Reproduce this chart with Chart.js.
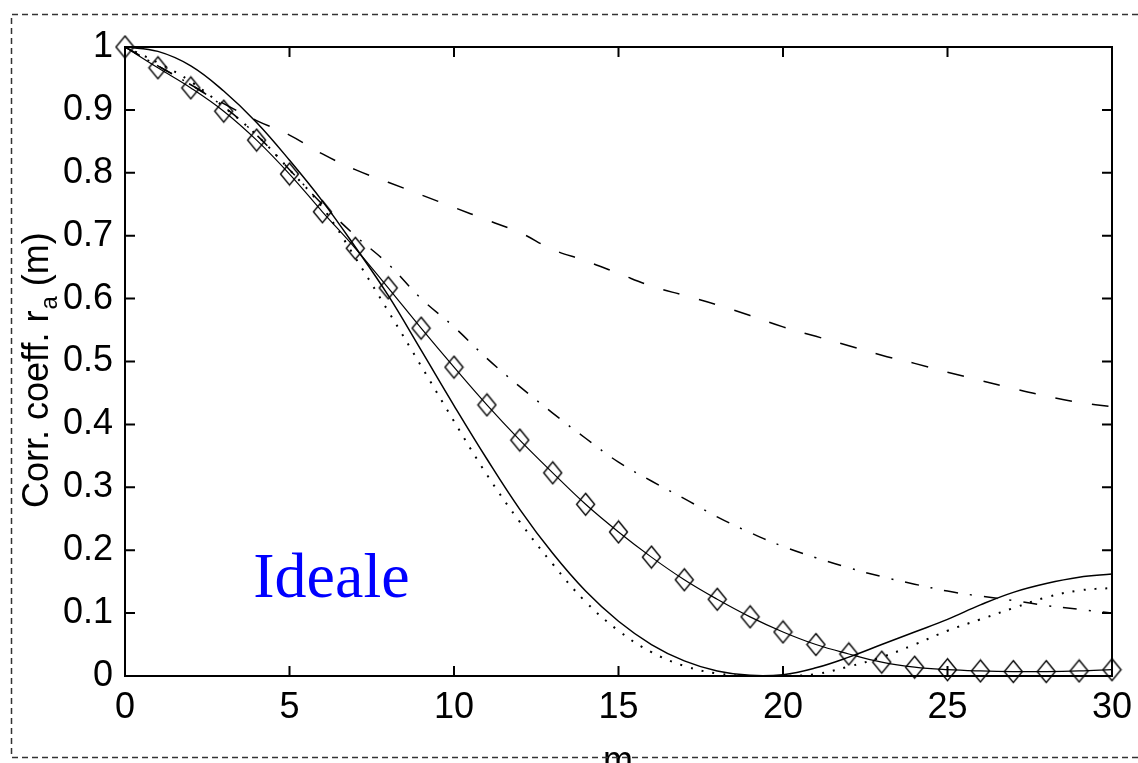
<!DOCTYPE html>
<html>
<head>
<meta charset="utf-8">
<script src="https://cdn.jsdelivr.net/npm/chart.js@4.4.1/dist/chart.umd.min.js"></script>
<style>
  html, body { margin: 0; padding: 0; background: #fff; }
  #wrap { position: relative; width: 1138px; height: 763px; }
</style>
</head>
<body>
<div id="wrap"><canvas id="corr" width="1138" height="763"></canvas></div>
<script>
// lag m
const lags = [0, 1, 2, 3, 4, 5, 6, 7, 8, 9, 10, 11, 12, 13, 14, 15, 16, 17, 18, 19, 20, 21, 22, 23, 24, 25, 26, 27, 28, 29, 30];

// correlation coefficient curves
const solidVals = [1.0, 0.993, 0.97, 0.93, 0.88, 0.82, 0.755, 0.682, 0.605, 0.518, 0.43, 0.345, 0.265, 0.195, 0.135, 0.087, 0.05, 0.024, 0.008, 0.001, 0.002, 0.013, 0.03, 0.05, 0.07, 0.09, 0.113, 0.133, 0.147, 0.157, 0.162];
const dottedVals = [1.0, 0.975, 0.945, 0.905, 0.86, 0.805, 0.745, 0.665, 0.58, 0.493, 0.405, 0.32, 0.245, 0.178, 0.118, 0.072, 0.038, 0.016, 0.004, 0.0, 0.0, 0.003, 0.015, 0.03, 0.05, 0.072, 0.09, 0.108, 0.125, 0.136, 0.14];
const dashDotVals = [1.0, 0.97, 0.94, 0.905, 0.86, 0.805, 0.75, 0.7, 0.655, 0.6, 0.555, 0.505, 0.46, 0.418, 0.378, 0.34, 0.31, 0.282, 0.253, 0.228, 0.206, 0.188, 0.172, 0.158, 0.146, 0.135, 0.127, 0.12, 0.112, 0.106, 0.1];
const dashedVals = [1.0, 0.97, 0.94, 0.91, 0.883, 0.86, 0.83, 0.805, 0.785, 0.765, 0.745, 0.725, 0.705, 0.678, 0.66, 0.64, 0.62, 0.605, 0.59, 0.573, 0.555, 0.54, 0.525, 0.51, 0.497, 0.483, 0.47, 0.457, 0.445, 0.435, 0.428];
const diamondVals = [1.0, 0.967, 0.935, 0.898, 0.852, 0.798, 0.738, 0.68, 0.617, 0.553, 0.491, 0.431, 0.375, 0.323, 0.273, 0.229, 0.189, 0.153, 0.122, 0.094, 0.07, 0.05, 0.035, 0.022, 0.014, 0.01, 0.008, 0.007, 0.007, 0.008, 0.01];

const FONT = "'Liberation Sans', Arial, Helvetica, sans-serif";
Chart.defaults.font.family = FONT;
Chart.defaults.color = "#000";

const toXY = (vals) => vals.map((v, i) => ({ x: lags[i], y: v }));

// open diamond marker, a bit taller than wide
const diamond = document.createElement("canvas");
diamond.width = 21;
diamond.height = 25;
(() => {
  const c = diamond.getContext("2d");
  c.strokeStyle = "#000";
  c.lineWidth = 1.4;
  c.beginPath();
  c.moveTo(10.5, 1.5);
  c.lineTo(19.5, 12.5);
  c.lineTo(10.5, 23.5);
  c.lineTo(1.5, 12.5);
  c.closePath();
  c.stroke();
})();

// box, inward ticks, axis titles, outer dashed frame and the label
const frame = {
  id: "frame",
  afterDraw(chart) {
    const ctx = chart.ctx;
    const a = chart.chartArea;
    const xs = chart.scales.x;
    const ys = chart.scales.y;
    ctx.save();

    ctx.strokeStyle = "#000";
    ctx.lineWidth = 2;
    ctx.strokeRect(a.left, a.top, a.right - a.left, a.bottom - a.top);

    ctx.beginPath();
    xs.ticks.forEach(t => {
      const px = xs.getPixelForValue(t.value);
      ctx.moveTo(px, a.bottom); ctx.lineTo(px, a.bottom - 10);
      ctx.moveTo(px, a.top); ctx.lineTo(px, a.top + 10);
    });
    ys.ticks.forEach(t => {
      const py = ys.getPixelForValue(t.value);
      ctx.moveTo(a.left, py); ctx.lineTo(a.left + 10, py);
      ctx.moveTo(a.right, py); ctx.lineTo(a.right - 10, py);
    });
    ctx.stroke();

    // y title with subscript
    ctx.fillStyle = "#000";
    ctx.translate(48, 508);
    ctx.rotate(-Math.PI / 2);
    ctx.textBaseline = "alphabetic";
    ctx.textAlign = "left";
    ctx.font = "36px " + FONT;
    const main = "Corr. coeff. r";
    ctx.fillText(main, 0, 0);
    let w = ctx.measureText(main).width;
    ctx.font = "24px " + FONT;
    ctx.fillText("a", w + 1, 9);
    w += ctx.measureText("a").width + 1;
    ctx.font = "36px " + FONT;
    ctx.fillText(" (m)", w, 0);
    ctx.setTransform(1, 0, 0, 1, 0, 0);

    // x title
    ctx.textAlign = "center";
    ctx.font = "36px " + FONT;
    ctx.fillText("m", 618, 772);

    // label
    ctx.fillStyle = "#0000ff";
    ctx.textAlign = "left";
    ctx.font = "64px 'Liberation Serif', 'Times New Roman', serif";
    ctx.fillText("Ideale", xs.getPixelForValue(3.9), ys.getPixelForValue(0.126));

    // dashed outer frame
    ctx.strokeStyle = "#333";
    ctx.lineWidth = 1.5;
    ctx.setLineDash([6, 4]);
    ctx.beginPath();
    ctx.moveTo(1138, 14.5); ctx.lineTo(11.5, 14.5); ctx.lineTo(11.5, 757.5); ctx.lineTo(1138, 757.5);
    ctx.stroke();
    ctx.restore();
  }
};

const lineBase = {
  borderColor: "#000",
  backgroundColor: "#000",
  borderWidth: 1.5,
  pointRadius: 0,
  fill: false,
  tension: 0.4
};

new Chart(document.getElementById("corr"), {
  type: "line",
  data: {
    datasets: [
      { ...lineBase, label: "solid", data: toXY(solidVals) },
      { ...lineBase, label: "dotted", data: toXY(dottedVals), borderDash: [2, 9], borderWidth: 2 },
      { ...lineBase, label: "dash-dot", data: toXY(dashDotVals), borderDash: [14, 12, 2, 12] },
      { ...lineBase, label: "dashed", data: toXY(dashedVals), borderDash: [17, 20] },
      {
        ...lineBase,
        label: "diamonds",
        data: toXY(diamondVals),
        borderWidth: 1.2,
        pointRadius: 10,
        pointStyle: diamond,
        clip: false
      }
    ]
  },
  options: {
    responsive: false,
    animation: false,
    layout: { padding: { left: 0, top: 47, right: 26, bottom: 0 } },
    plugins: {
      legend: { display: false },
      tooltip: { enabled: false }
    },
    scales: {
      x: {
        type: "linear",
        min: 0,
        max: 30,
        ticks: { stepSize: 5, padding: 10, font: { size: 36 }, maxRotation: 0 },
        grid: { display: false, drawTicks: false },
        border: { display: false },
        afterFit: (s) => {
          s.height = 87;
          s.paddingLeft = 0;
          s.paddingRight = 0;
        }
      },
      y: {
        min: 0,
        max: 1,
        ticks: {
          stepSize: 0.1,
          padding: 12,
          font: { size: 36 },
          callback: (value) => String(Math.round(value * 10) / 10)
        },
        grid: { display: false, drawTicks: false },
        border: { display: false },
        afterFit: (s) => {
          s.width = 125;
          s.paddingTop = 0;
          s.paddingBottom = 0;
        }
      }
    }
  },
  plugins: [frame]
});
</script>
</body>
</html>
